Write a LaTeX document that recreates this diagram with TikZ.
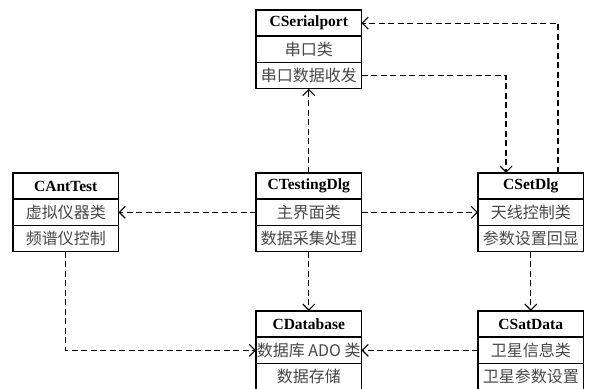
\documentclass[tikz,border=0pt]{standalone}
\usepackage{fontspec}
\setmainfont{Liberation Serif}
\newfontfamily\cjk{Noto Sans CJK SC}
\usetikzlibrary{arrows.meta,fit}
\newcommand\umlclass[6]{%
  \node[hdr] (#1-t) at (#2,#3) {#4};
  \node[cell] (#1-a) at (#1-t.south west) {#5};
  \node[cell] (#1-b) at (#1-a.south west) {#6};
  \node[fit=(#1-t)(#1-b), inner sep=0pt] (#1) {};
}
\begin{document}
\begin{tikzpicture}[x=1pt,y=-1pt,
  hdr/.style={draw, line width=1.5pt, minimum width=105.5pt, minimum height=26.2pt,
    inner sep=0pt, outer sep=0pt, anchor=north west, font=\fontsize{15.5}{15.5}\selectfont\bfseries},
  cell/.style={draw, line width=1.5pt, minimum width=105.5pt, minimum height=26.2pt,
    inner sep=0pt, outer sep=0pt, anchor=north west, font=\fontsize{16}{16}\selectfont\cjk, text=black!72},
  dep/.style={line width=1.2pt, dash pattern=on 6pt off 3.5pt,
    -{Straight Barb[length=6pt,width=12pt,line width=1.1pt]}}]
\useasboundingbox (0,0) rectangle (593,388);

\umlclass{ser}{256}{10}{CSerialport}{串口类}{串口数据收发}
\umlclass{ant}{13}{173}{CAntTest}{虚拟仪器类}{频谱仪控制}
\umlclass{tst}{256}{173}{CTestingDlg}{主界面类}{数据采集处理}
\umlclass{set}{478}{173}{CSetDlg}{天线控制类}{参数设置回显}
\umlclass{db}{256}{311}{CDatabase}{数据库 ADO 类}{数据存储}
\umlclass{sat}{478}{311}{CSatData}{卫星信息类}{卫星参数设置}

\coordinate (k1) at (558,0);
\coordinate (k2) at (506,0);

\draw[dep] (set.north -| k1) -- (k1 |- ser-t.east) -- (ser-t.east);
\draw[dep] (ser-b.east) -- (ser-b.east -| k2) -- (k2 |- set.north);
\draw[dep] (tst.north) -- (ser.south);
\draw[dep] (tst-a.west) -- (ant-a.east);
\draw[dep] (tst-a.east) -- (set-a.west);
\draw[dep] (tst.south) -- (db.north);
\draw[dep] (ant.south) -- (ant.south |- db-a.west) -- (db-a.west);
\draw[dep] (sat-a.west) -- (db-a.east);
\draw[dep] (set.south) -- (sat.north);
\end{tikzpicture}
\end{document}
